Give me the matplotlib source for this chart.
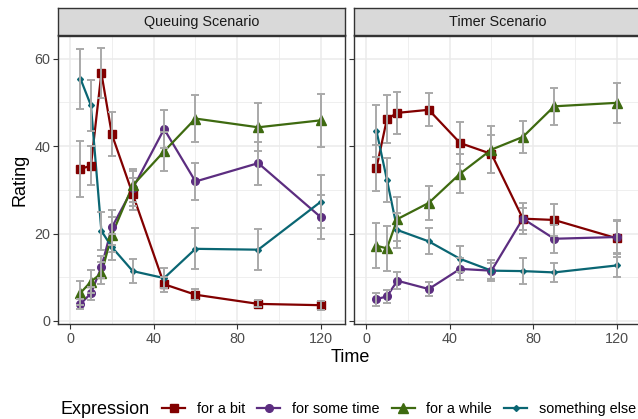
import matplotlib
matplotlib.use("Agg")
import matplotlib.pyplot as plt
from matplotlib.lines import Line2D
import numpy as np

plt.rcParams["font.family"] = ["Liberation Sans", "DejaVu Sans"]

times_q = [5, 10, 15, 20, 30, 45, 60, 90, 120]
times_t = [5, 10, 15, 30, 45, 60, 75, 90, 120]

# Queuing scenario
bit_q = [34.8, 35.5, 56.7, 42.7, 29.0, 8.4, 6.0, 3.9, 3.6]
bit_q_err = [6.4, 4.5, 5.7, 5.0, 3.7, 1.7, 1.3, 0.8, 1.0]
some_q = [3.9, 6.3, 12.3, 21.4, 30.3, 43.9, 31.9, 36.1, 23.7]
some_q_err = [1.2, 1.5, 2.5, 4.0, 4.0, 4.3, 4.2, 4.9, 5.0]
while_q = [6.4, 9.0, 10.9, 19.7, 31.0, 38.8, 46.3, 44.3, 45.9]
while_q_err = [2.7, 2.7, 2.5, 4.0, 3.7, 4.5, 5.4, 5.5, 6.0]
else_q = [55.4, 49.3, 20.6, 16.9, 11.4, 9.8, 16.5, 16.3, 27.3]
else_q_err = [6.9, 5.8, 4.4, 3.0, 2.7, 2.3, 4.7, 4.7, 6.0]

# Timer scenario
bit_t = [35.0, 46.2, 47.6, 48.3, 40.7, 38.2, 23.4, 23.1, 18.9]
bit_t_err = [5.3, 5.5, 4.8, 3.8, 4.7, 4.4, 3.5, 3.7, 4.2]
some_t = [5.0, 5.6, 9.2, 7.3, 11.9, 11.5, 23.4, 18.8, 19.2]
some_t_err = [1.5, 1.5, 2.0, 1.5, 2.5, 1.8, 2.5, 3.2, 3.6]
while_t = [17.2, 16.6, 23.3, 27.0, 33.7, 39.2, 42.1, 49.1, 49.9]
while_t_err = [5.2, 5.2, 5.0, 3.8, 4.4, 5.3, 3.6, 4.2, 4.6]
else_t = [43.5, 32.3, 20.8, 18.2, 14.2, 11.5, 11.4, 11.1, 12.7]
else_t_err = [6.0, 5.0, 4.0, 3.0, 3.0, 2.4, 2.9, 2.1, 2.7]

expressions = ["for a bit", "for some time", "for a while", "something else"]
colors = ["#820000", "#5c2d80", "#3e6a10", "#0a6673"]
markers = ["s", "o", "^", "D"]
msizes = [6, 5.5, 6.5, 3]

panels = [
    ("Queuing Scenario", times_q, [bit_q, some_q, while_q, else_q],
     [bit_q_err, some_q_err, while_q_err, else_q_err]),
    ("Timer Scenario", times_t, [bit_t, some_t, while_t, else_t],
     [bit_t_err, some_t_err, while_t_err, else_t_err]),
]

W, H = 638, 419
fig = plt.figure(figsize=(W / 100, H / 100), dpi=100)

def rect(x0, y0, x1, y1):
    return [x0 / W, 1 - y1 / H, (x1 - x0) / W, (y1 - y0) / H]

panel_x = [(58.3, 345), (354.3, 641)]
axes = []
for i, (title, times, series, errs) in enumerate(panels):
    x0, x1 = panel_x[i]
    ax = fig.add_axes(rect(x0, 35.5, x1, 324))
    axes.append(ax)
    sax = fig.add_axes(rect(x0, 8, x1, 35.5))
    sax.set_facecolor("#d9d9d9")
    sax.set_xticks([])
    sax.set_yticks([])
    for s in sax.spines.values():
        s.set_color("#333333")
        s.set_linewidth(1.0)
    sax.text(0.5, 0.5, title, ha="center", va="center", fontsize=10.4,
             color="#1a1a1a", transform=sax.transAxes)

    ax.set_xlim(-5.6, 131.5)
    ax.set_ylim(-0.7, 65.3)
    ax.set_xticks([0, 40, 80, 120])
    ax.set_xticks([20, 60, 100], minor=True)
    ax.set_yticks([0, 20, 40, 60])
    ax.set_yticks([10, 30, 50], minor=True)
    ax.grid(which="major", color="#ebebeb", linewidth=1.1)
    ax.grid(which="minor", color="#ebebeb", linewidth=0.55)
    ax.set_axisbelow(True)
    ax.tick_params(which="minor", length=0)
    ax.tick_params(which="major", length=3.3, color="#333333", width=0.8,
                   labelsize=10.4, labelcolor="#4d4d4d", pad=2.5)
    for s in ax.spines.values():
        s.set_color("#333333")
        s.set_linewidth(1.0)
    if i == 1:
        ax.set_yticklabels([])

    for vals, col, mk, ms in zip(series, colors, markers, msizes):
        ax.plot(times, vals, color=col, linewidth=1.6, zorder=3)
        ax.plot(times, vals, linestyle="none", marker=mk, markersize=ms,
                color=col, zorder=4)
    for vals, err in zip(series, errs):
        ax.errorbar(times, vals, yerr=err, fmt="none", ecolor="#a9a9a9",
                    elinewidth=1.4, capsize=3, capthick=1.4, zorder=5)

fig.text(20 / W, 1 - 180 / H, "Rating", ha="center", va="center",
         rotation=90, fontsize=13, color="black")
fig.text(350 / W, 1 - 357 / H, "Time", ha="center", va="center",
         fontsize=13, color="black")

handles = [Line2D([0], [0], color=c, marker=m, markersize=ms, linewidth=1.6)
           for c, m, ms in zip(colors, markers, msizes)]
fig.text(61 / W, 1 - 409 / H, "Expression", ha="left", va="center",
         fontsize=13, color="black")
fig.legend(handles, expressions, loc="center left", ncol=4, frameon=False,
           bbox_to_anchor=(162 / W, 1 - 409 / H), fontsize=10.4,
           handlelength=1.6, handletextpad=0.8, columnspacing=0.85,
           borderaxespad=0, borderpad=0)

fig.savefig("out.png", dpi=100)
